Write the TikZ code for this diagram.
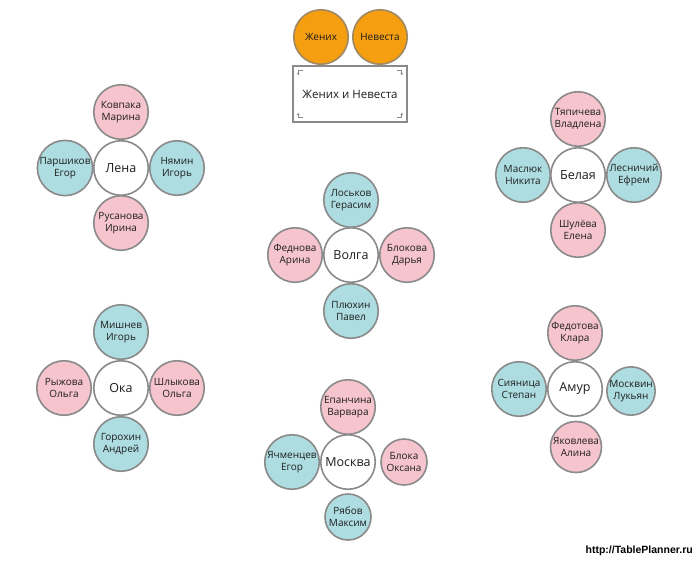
\documentclass[tikz,border=0pt]{standalone}
\usepackage{fontspec}
\usetikzlibrary{arrows.meta}
\setmainfont{Open Sans}
\newfontfamily\urlfont{Liberation Sans}
\definecolor{pinkc}{HTML}{F6C4CD}
\definecolor{bluec}{HTML}{AEDDE1}
\definecolor{orangec}{HTML}{F59E0F}
\definecolor{ringc}{HTML}{8A8A8A}
\definecolor{oringc}{HTML}{A08A66}
\definecolor{txtc}{HTML}{1E1E1E}
\begin{document}
\begin{tikzpicture}[x=1pt,y=-1pt,
  seat/.style={circle,draw=ringc,line width=1.6pt,minimum size=54.5pt,inner sep=0pt,
    align=center,font=\fontsize{10}{12}\selectfont,text=txtc},
  pk/.style={seat,fill=pinkc},
  bl/.style={seat,fill=bluec},
  smallseat/.style={minimum size=46pt},
  tablec/.style={seat,fill=white,font=\fontsize{12.5}{14}\selectfont},
  couple/.style={seat,fill=orangec,draw=oringc,font=\fontsize{10}{12}\selectfont},
  cornermark/.style={draw=ringc,line width=0.8pt,{Stealth[length=2.2pt,width=2.6pt]}-}
]
\useasboundingbox[fill=white] (0,0) rectangle (700,560);

% bride and groom
\node[draw=ringc,line width=1.6pt,fill=white,minimum width=114pt,minimum height=56pt,
  inner sep=0pt,font=\fontsize{11.5}{14}\selectfont,text=txtc] (head) at (350,94) {Жених и Невеста};
\node[couple] (groom) at (321,37) {Жених};
\node[couple] (bride) at (380,37) {Невеста};
\draw[cornermark] ([shift={(6,10)}]head.north west) -- ([shift={(6,5)}]head.north west) -- ([shift={(11,5)}]head.north west);
\draw[cornermark] ([shift={(-6,10)}]head.north east) -- ([shift={(-6,5)}]head.north east) -- ([shift={(-11,5)}]head.north east);
\draw[cornermark] ([shift={(6,-10)}]head.south west) -- ([shift={(6,-5)}]head.south west) -- ([shift={(11,-5)}]head.south west);
\draw[cornermark] ([shift={(-6,-10)}]head.south east) -- ([shift={(-6,-5)}]head.south east) -- ([shift={(-11,-5)}]head.south east);

% Лена
\node[tablec] (lena) at (121,168) {Лена};
\node[pk] (lena1) at (121,112) {Ковпака\\Марина};
\node[bl] (lena2) at (65,168) {Паршиков\\Егор};
\node[bl] (lena3) at (177,168) {Нямин\\Игорь};
\node[pk] (lena4) at (121,223) {Русанова\\Ирина};

% Белая
\node[tablec] (bel) at (578,175) {Белая};
\node[pk] (bel1) at (578,119) {Тяпичева\\Владлена};
\node[bl] (bel2) at (523,175) {Маслюк\\Никита};
\node[bl] (bel3) at (634,175) {Лесничий\\Ефрем};
\node[pk] (bel4) at (578,230) {Шулёва\\Елена};

% Волга
\node[tablec] (vol) at (351,255) {Волга};
\node[bl] (vol1) at (351,200) {Лоськов\\Герасим};
\node[pk] (vol2) at (295,255) {Феднова\\Арина};
\node[pk] (vol3) at (407,255) {Блокова\\Дарья};
\node[bl] (vol4) at (351,311) {Плюхин\\Павел};

% Ока
\node[tablec] (oka) at (121,388) {Ока};
\node[bl] (oka1) at (121,332) {Мишнев\\Игорь};
\node[pk] (oka2) at (64,388) {Рыжова\\Ольга};
\node[pk] (oka3) at (177,388) {Шлыкова\\Ольга};
\node[bl] (oka4) at (121,444) {Горохин\\Андрей};

% Москва
\node[tablec] (msk) at (348,462) {Москва};
\node[pk] (msk1) at (348,407) {Епанчина\\Варвара};
\node[bl] (msk2) at (292,462) {Ячменцев\\Егор};
\node[pk,smallseat] (msk3) at (404,462) {Блока\\Оксана};
\node[bl,smallseat] (msk4) at (348,517) {Рябов\\Максим};

% Амур
\node[tablec] (amur) at (575,389) {Амур};
\node[pk] (amur1) at (575,333) {Федотова\\Клара};
\node[bl] (amur2) at (519,389) {Сияница\\Степан};
\node[bl,smallseat] (amur3) at (631,391) {Москвин\\Лукьян};
\node[pk,minimum size=51pt] (amur4) at (576,447) {Яковлева\\Алина};

\node[font=\urlfont\bfseries\fontsize{10.5}{12}\selectfont,text=black,anchor=east,inner sep=0pt] (url) at (693,551) {http://TablePlanner.ru};
\end{tikzpicture}
\end{document}
